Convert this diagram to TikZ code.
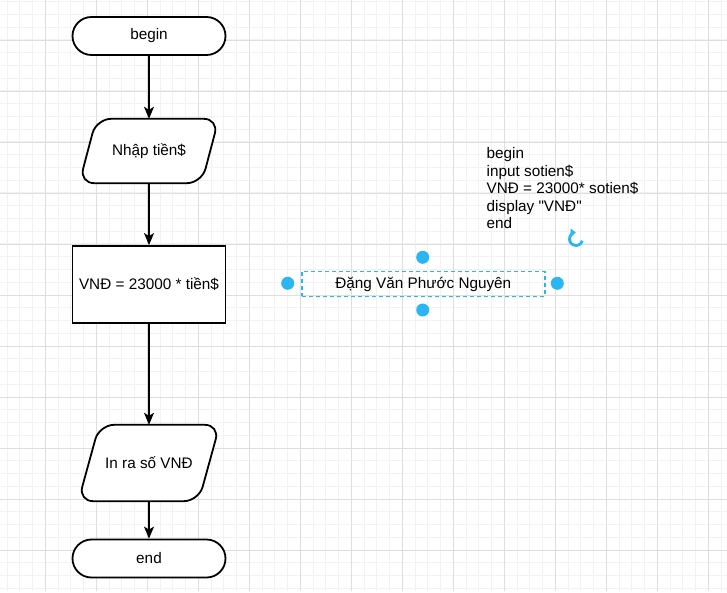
\documentclass[tikz,border=0pt]{standalone}
\usepackage{fontspec}
\setmainfont{Liberation Sans}
\usetikzlibrary{shapes.misc,arrows.meta,calc}
\definecolor{sel}{HTML}{29B6F2}
\definecolor{gminor}{HTML}{F2F2F2}
\definecolor{gmajor}{HTML}{DEDEDE}
\newcommand{\sq}{\XeTeXglyph\XeTeXglyphindex "quotedbl"\relax}
\tikzset{
  txt/.style={font=\fontsize{15.3}{17.5}\selectfont, text=black},
  term/.style={txt, rounded rectangle, draw=black, line width=1.8pt, fill=white,
    minimum width=153pt, minimum height=38pt, inner sep=0pt},
  procbox/.style={txt, rectangle, draw=black, line width=1.8pt, fill=white,
    minimum width=153pt, minimum height=77pt, inner sep=0pt},
  iobox/.style={txt, rectangle, inner sep=0pt},
  iodraw/.style={draw=black, line width=1.8pt, fill=white, rounded corners=15pt},
  flow/.style={draw=black, line width=1.7pt, -{Stealth[length=12pt,width=10pt,inset=3pt]}},
  gridminor/.style={draw=gminor, line width=1pt},
  gridmajor/.style={draw=gmajor, line width=0.9pt},
  handle/.style={circle, fill=sel, inner sep=0pt, minimum size=13pt},
}
\begin{document}
\begin{tikzpicture}[x=1pt,y=-1pt]
\useasboundingbox (0,0) rectangle (727,593);
\fill[white] (0,0) rectangle (727,593);
% grid
\foreach \i in {0,...,56} \draw[gridminor] ({7.05+12.75*\i},0) -- ({7.05+12.75*\i},591);
\foreach \i in {0,...,46} \draw[gridminor] (0,{1.75+12.75*\i}) -- (727,{1.75+12.75*\i});
\foreach \i in {0,...,13} \draw[gridmajor] ({45.3+51*\i},0) -- ({45.3+51*\i},591);
\foreach \i in {0,...,10} \draw[gridmajor] (0,{40+51*\i}) -- (727,{40+51*\i});

% flowchart nodes
\node[term] (begin) at (149,36) {begin};
\node[iobox, minimum width=139pt, minimum height=64pt] (nhap) at (149,151) {};
\draw[iodraw] ($(nhap.north west)+(17,0)$) -- (nhap.north east) -- ($(nhap.south east)-(17,0)$) -- (nhap.south west) -- cycle;
\node[txt] at (nhap.center) {Nhập tiền\$};
\node[procbox] (calc) at (149,284.5) {VNĐ = 23000 * tiền\$};
\node[iobox, minimum width=141pt, minimum height=76pt] (inra) at (149,463) {};
\draw[iodraw] ($(inra.north west)+(21,0)$) -- (inra.north east) -- ($(inra.south east)-(21,0)$) -- (inra.south west) -- cycle;
\node[txt] at (inra.center) {In ra số VNĐ};
\node[term] (end) at (149,558.5) {end};

% connectors
\draw[flow] (begin.south) -- (nhap.north);
\draw[flow] (nhap.south) -- (calc.north);
\draw[flow] (calc.south) -- (inra.north);
\draw[flow] (inra.south) -- (end.north);

% pseudo code
\node[txt, align=left, anchor=north west, inner sep=0pt] (code) at (486.5,147.5) {begin\\input sotien\$\\VNĐ = 23000* sotien\$\\display \sq VNĐ\sq\\end};

% selected text label
\node[txt, draw=sel, dash pattern=on 4pt off 3pt, line width=1.5pt,
  minimum width=243pt, minimum height=24.5pt, inner sep=0pt] (name) at (423.3,284) {Đặng Văn Phước Nguyên};
\node[handle] (hl) at (287.7,283.3) {};
\node[handle] (hr) at (557.3,283.3) {};
\node[handle] (ht) at (422.7,257.3) {};
\node[handle] (hb) at (422.7,310) {};
% rotate icon
\coordinate (rot) at (576,239);
\draw[sel, line width=2.8pt, -{Triangle[length=5pt,width=8pt]}] ($(rot)+(15:6.5)$) arc[start angle=15, end angle=268, radius=6.5];
\end{tikzpicture}
\end{document}
